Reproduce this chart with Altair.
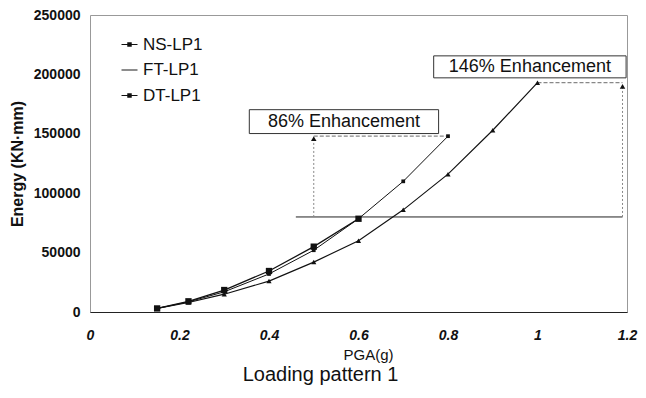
import altair as alt
import pandas as pd

# ---- data ----
series_names = ["NS-LP1", "FT-LP1", "DT-LP1"]
ns_pga = [0.15, 0.22, 0.3, 0.4, 0.5, 0.6]
ns_energy = [3000, 9000, 18500, 34500, 55000, 78500]
ft_pga = [0.15, 0.22, 0.3, 0.4, 0.5, 0.6, 0.7, 0.8, 0.9, 1.0]
ft_energy = [3000, 8000, 15000, 26000, 42000, 60000, 86000, 116000, 153000, 193000]
dt_pga = [0.15, 0.22, 0.3, 0.4, 0.5, 0.6, 0.7, 0.8]
dt_energy = [3000, 8500, 17000, 32000, 52000, 78500, 110000, 148000]

x_ticks = [0, 0.2, 0.4, 0.6, 0.8, 1.0, 1.2]
y_ticks = [0, 50000, 100000, 150000, 200000, 250000]

# annotations
base_level = [80000]
base_x0 = [0.46]
base_x1 = [1.19]
arrow_x = [0.5, 1.19]
arrow_y0 = [80000, 80000]
arrow_y1 = [146000, 190000]
lead_x0 = [0.5, 1.0]
lead_x1 = [0.8, 1.19]
lead_y = [148000, 193000]
box_text = ["86% Enhancement", "146% Enhancement"]
box_x0 = [0.356, 0.768]
box_x1 = [0.779, 1.198]
box_y0 = [150200, 197100]
box_y1 = [170300, 215600]

rows = []
for name, xs, ys in [("NS-LP1", ns_pga, ns_energy), ("FT-LP1", ft_pga, ft_energy), ("DT-LP1", dt_pga, dt_energy)]:
    for xv, yv in zip(xs, ys):
        rows.append({"series": name, "pga": xv, "energy": yv})
df = pd.DataFrame(rows)

base_df = pd.DataFrame({"x0": base_x0, "x1": base_x1, "y": base_level})
arrow_df = pd.DataFrame({"x": arrow_x, "y0": arrow_y0, "y1": arrow_y1})
lead_df = pd.DataFrame({"x0": lead_x0, "x1": lead_x1, "y": lead_y})
box_df = pd.DataFrame({"label": box_text, "x0": box_x0, "x1": box_x1, "y0": box_y0, "y1": box_y1})
box_df["xm"] = (box_df["x0"] + box_df["x1"]) / 2
box_df["ym"] = (box_df["y0"] + box_df["y1"]) / 2

FONT = "Liberation Sans"
x_scale = alt.Scale(domain=[0, 1.2], nice=False, zero=False)
y_scale = alt.Scale(domain=[0, 250000], nice=False)
x_axis = alt.Axis(values=x_ticks, format="~g", title="PGA(g)", labelFont=FONT,
                  labelFontSize=14, labelFontWeight="bold", labelFontStyle="italic",
                  labelPadding=16, labelFlush=False, labelOverlap=False,
                  titleFont=FONT, titleFontSize=15, titleFontWeight="normal",
                  titlePadding=5, titleX=278, domain=True, domainColor="#222", ticks=False, grid=False,
                  labelColor="#111", titleColor="#111")
y_axis = alt.Axis(values=y_ticks, format="d", title="Energy (KN\u00b7mm)", labelFont=FONT,
                  labelFontSize=14, labelFontWeight="bold", labelPadding=10, labelFlush=False,
                  titleFont=FONT, titleFontSize=16, titleFontWeight="bold", titlePadding=8,
                  domain=False, ticks=False, grid=False, labelColor="#111", titleColor="#111")

def X(f):
    return alt.X(f, type="quantitative", scale=x_scale, axis=x_axis)

def Y(f):
    return alt.Y(f, type="quantitative", scale=y_scale, axis=y_axis)

lines = alt.Chart(df).mark_line(color="#111").encode(
    x=X("pga"), y=Y("energy"), detail="series:N",
    strokeWidth=alt.StrokeWidth("series:N", scale=alt.Scale(domain=series_names, range=[1.3, 1.0, 1.3]), legend=None),
)

points = alt.Chart(df).mark_point(filled=True, color="#111", opacity=1).encode(
    x=X("pga"), y=Y("energy"),
    shape=alt.Shape("series:N", scale=alt.Scale(domain=series_names, range=["square", "triangle-up", "square"]), legend=None),
    size=alt.Size("series:N", scale=alt.Scale(domain=series_names, range=[40, 14, 40]), legend=None),
)

# legend glyphs drawn as filled paths: a thin bar (the line) plus a small square marker
sym_sq = "M-1,-0.075H1V0.075H-1ZM-0.28,-0.28H0.28V0.28H-0.28Z"
sym_ln = "M-1,-0.06H1V0.06H-1Z"
legend_layer = alt.Chart(df).transform_filter("false").mark_point(
    filled=True, color="#111", opacity=1
).encode(
    x=X("pga"), y=Y("energy"),
    shape=alt.Shape("series:N", scale=alt.Scale(domain=series_names, range=[sym_sq, sym_ln, sym_sq]),
                    legend=alt.Legend(title=None, orient="none", legendX=31, legendY=21, padding=0,
                                      symbolSize=256, symbolStrokeWidth=0, symbolFillColor="#111",
                                      symbolOpacity=1,
                                      labelFont=FONT, labelFontSize=17,
                                      labelColor="#111", labelOffset=5, rowPadding=7.5)),
)

base_rule = alt.Chart(base_df).mark_rule(color="#222", strokeWidth=1).encode(
    x=X("x0"), x2="x1", y=Y("y"))
arrow_rules = alt.Chart(arrow_df).mark_rule(color="#888", strokeWidth=1, strokeDash=[2, 2]).encode(
    x=X("x"), y=Y("y0"), y2="y1")
arrow_heads = alt.Chart(arrow_df).mark_point(shape="triangle-up", filled=True, color="#111", size=30, opacity=1).encode(
    x=X("x"), y=Y("y1"))
lead_rules = alt.Chart(lead_df).mark_rule(color="#888", strokeWidth=1.2, strokeDash=[4, 2]).encode(
    x=X("x0"), x2="x1", y=Y("y"))
boxes = alt.Chart(box_df).mark_rect(fill="white", stroke="#333", strokeWidth=1).encode(
    x=X("x0"), x2="x1", y=Y("y0"), y2="y1")
box_labels = alt.Chart(box_df).mark_text(font=FONT, fontSize=18, color="#111").encode(
    x=X("xm"), y=Y("ym"), text="label:N")

chart = alt.layer(
    base_rule, arrow_rules, lead_rules, lines, points, arrow_heads, boxes, box_labels, legend_layer
).resolve_scale(shape="independent").properties(
    width=537, height=297,
    autosize=alt.AutoSizeParams(type="none"),
    padding={"left": 82, "top": 7, "right": 11, "bottom": 78},
    title=alt.TitleParams("Loading pattern 1", orient="bottom", fontSize=20, fontWeight="normal",
                          font=FONT, color="#111", offset=3, dx=-38),
).configure_view(stroke="#999", strokeWidth=1)

chart.save("out.html", embed_options={"renderer": "svg", "actions": False})
